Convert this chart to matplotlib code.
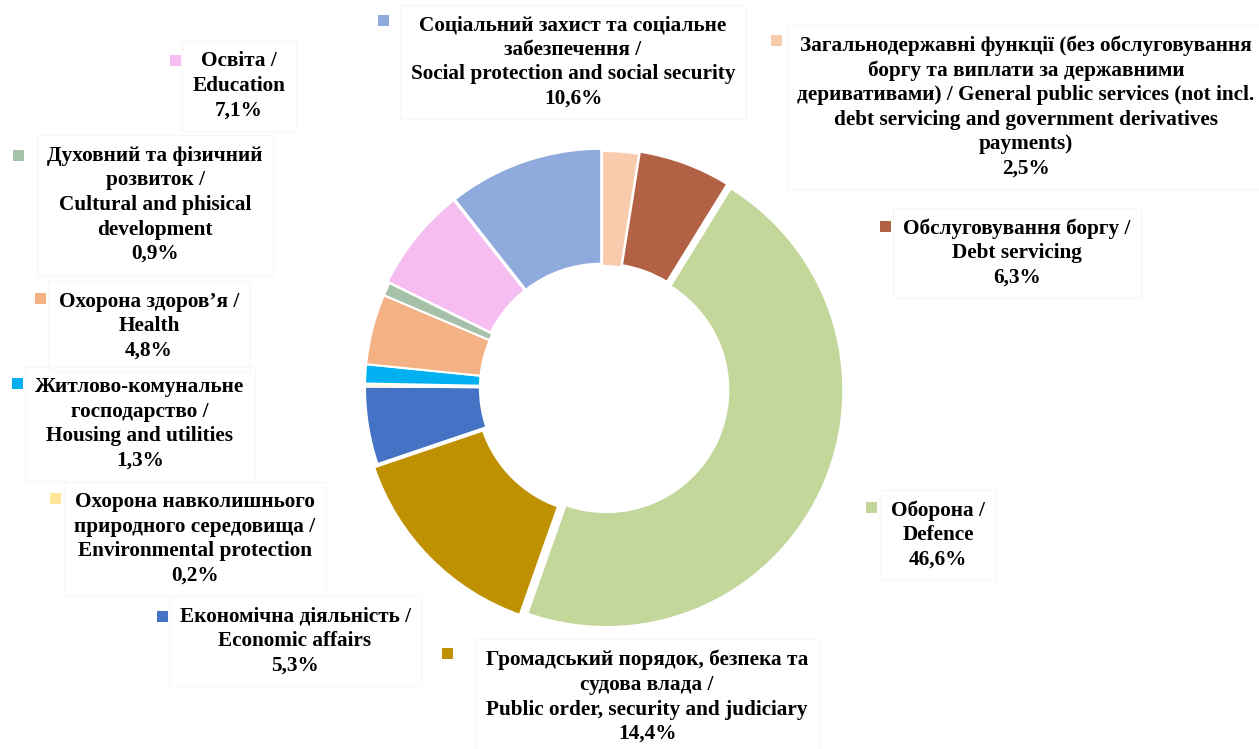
import matplotlib
matplotlib.use('Agg')
import matplotlib.pyplot as plt
from matplotlib.patches import Rectangle

# shares of expenditures, clockwise from 12 o'clock
labels = [
    'Загальнодержавні функції (без обслуговування\nборгу та виплати за державними\nдеривативами) / General public services (not incl.\ndebt servicing and government derivatives\npayments)',
    'Обслуговування боргу /\nDebt servicing',
    'Оборона /\nDefence',
    'Громадський порядок, безпека та\nсудова влада /\nPublic order, security and judiciary',
    'Економічна діяльність /\nEconomic affairs',
    'Охорона навколишнього\nприродного середовища /\nEnvironmental protection',
    'Житлово-комунальне\nгосподарство /\nHousing and utilities',
    'Охорона здоров’я /\nHealth',
    'Духовний та фізичний\nрозвиток /\nCultural and phisical\ndevelopment',
    'Освіта /\nEducation',
    'Соціальний захист та соціальне\nзабезпечення /\nSocial protection and social security',
]
values = [2.5, 6.3, 46.6, 14.4, 5.3, 0.2, 1.3, 4.8, 0.9, 7.1, 10.6]
colors = ['#F8CBAD', '#B26145', '#C4D79B', '#BF9000', '#4472C4', '#FFE699',
          '#00B0F0', '#F4B183', '#A6C1A9', '#F6BEF0', '#8FAADC']
explode = [0, 0.01, 0.02, 0.02, 0, 0, 0, 0, 0, 0.01, 0.01]

# label block centres and legend-square centres, in pixels from top-left
text_pos = [(1026, 107), (1017, 253), (938, 535), (647, 697), (295, 641), (195, 539),
            (140, 424), (149, 326), (155, 205), (239, 86), (573, 62)]
mark_pos = [(776, 40), (885, 226), (872, 507), (447, 653), (162, 616), (55, 498),
            (17, 383), (40, 298), (18, 155), (175, 60), (383, 20)]

W, H = 1259, 749
cx, cy, R = 602, 388, 237

fig = plt.figure(figsize=(W / 100, H / 100), dpi=100)
half = 250
ax = fig.add_axes([(cx - half) / W, (H - cy - half) / H, 2 * half / W, 2 * half / H])
ax.pie(values, colors=colors, startangle=90, counterclock=False, explode=explode,
       radius=1.0, wedgeprops=dict(width=0.485, edgecolor='white', linewidth=1.5))
lim = half / R
ax.set_xlim(-lim, lim)
ax.set_ylim(-lim, lim)
ax.set_aspect('equal')
ax.axis('off')

for lab, v, c, (tx, ty), (mx, my) in zip(labels, values, colors, text_pos, mark_pos):
    txt = lab + '\n' + ('%.1f' % v).replace('.', ',') + '%'
    fig.text(tx / W, 1 - ty / H, txt, ha='center', va='center', multialignment='center',
             fontsize=15.3, fontweight='bold', family='Liberation Serif', linespacing=1.30,
             color='black',
             bbox=dict(boxstyle='square,pad=0.5', facecolor='none', edgecolor='#f8f8f8', lw=1))
    s = 11
    fig.patches.append(Rectangle(((mx - s / 2) / W, 1 - (my + s / 2) / H), s / W, s / H,
                                 transform=fig.transFigure, facecolor=c, edgecolor='none'))

fig.savefig('out.png', dpi=100)
